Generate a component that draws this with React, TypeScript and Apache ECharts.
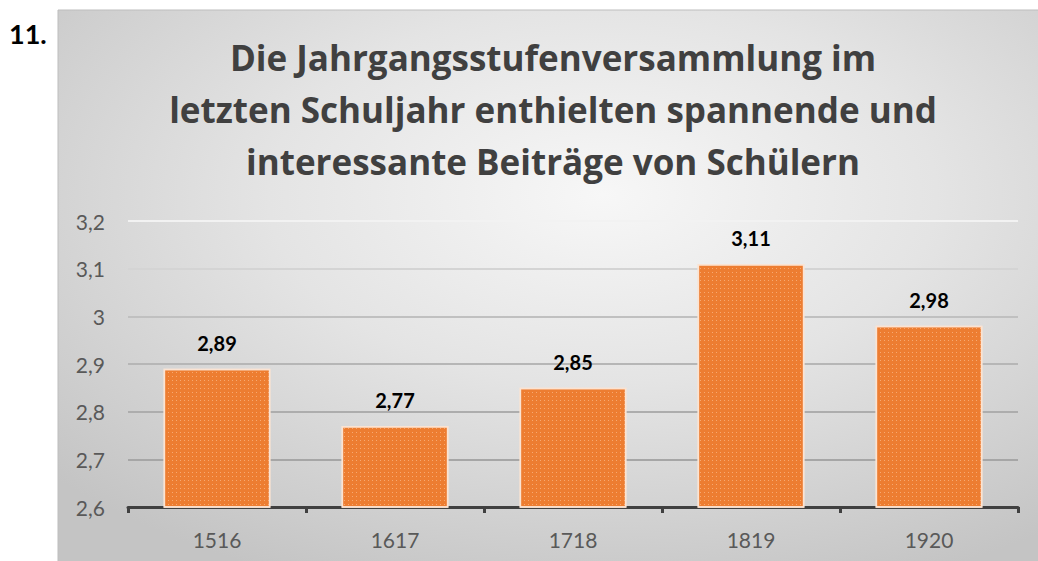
import React, { useEffect, useRef } from "react";
import * as echarts from "echarts";

const categories = ["1516", "1617", "1718", "1819", "1920"];
const values = [2.89, 2.77, 2.85, 3.11, 2.98];
const titleText =
  "Die Jahrgangsstufenversammlung im\nletzten Schuljahr enthielten spannende und\ninteressante Beiträge von Schülern";
const numberLabel = "11.";
const yMin = 2.6;
const yMax = 3.2;
const yStep = 0.1;

const fmt = (v: number, digits: number) => v.toFixed(digits).replace(".", ",");
const fmtTick = (v: number) => {
  const r = Math.round(v * 10) / 10;
  return Number.isInteger(r) ? String(r) : fmt(r, 1);
};

export default function App() {
  const ref = useRef<HTMLDivElement>(null);
  useEffect(() => {
    if (!ref.current) return;
    const chart = echarts.init(ref.current, null, { renderer: "svg" });
    chart.setOption({
      animation: false,
      backgroundColor: "#ffffff",
      graphic: [
        {
          type: "rect",
          z: -100,
          silent: true,
          shape: { x: 58, y: 10, width: 990, height: 560 },
          style: {
            fill: {
              type: "radial",
              x: 0.55,
              y: 0.33,
              r: 0.75,
              colorStops: [
                { offset: 0, color: "#f7f7f7" },
                { offset: 0.45, color: "#e4e4e4" },
                { offset: 1, color: "#c4c4c4" },
              ],
            },
            stroke: "#bdbdbd",
            lineWidth: 1,
          },
        },
        {
          type: "text",
          left: 9,
          top: 20,
          style: {
            text: numberLabel,
            fontSize: 27,
            fontWeight: "bold",
            fontFamily: "Lato",
            fill: "#000000",
          },
        },
      ],
      title: {
        text: titleText,
        left: 553,
        top: 31,
        padding: 0,
        textAlign: "center",
        textStyle: {
          fontFamily: "Open Sans",
          fontSize: 35,
          fontWeight: "bold",
          color: "#404040",
          lineHeight: 52,
        },
      },
      grid: { left: 128, right: 20, top: 221, bottom: 54, containLabel: false },
      xAxis: {
        type: "category",
        data: categories,
        axisLine: { show: true, lineStyle: { color: "#404040", width: 3 } },
        axisTick: { show: true, length: 6, lineStyle: { color: "#404040", width: 3 } },
        axisLabel: {
          margin: 22,
          fontSize: 21,
          color: "#595959",
          fontFamily: "Lato",
        },
      },
      yAxis: {
        type: "value",
        min: yMin,
        max: yMax,
        interval: yStep,
        axisLine: { show: false },
        axisTick: { show: false },
        axisLabel: {
          margin: 23,
          fontSize: 21,
          color: "#595959",
          fontFamily: "Lato",
          formatter: (v: number) => fmtTick(v),
        },
        splitLine: {
          show: true,
          lineStyle: {
            width: 2,
            color: ["#a0a0a0", "#a6a6a6", "#adadad", "#b6b6b6", "#c0c0c0", "#d4d4d4", "#f2f2f2"],
          },
        },
      },
      series: [
        {
          type: "bar",
          data: values,
          barCategoryGap: "40%",
          itemStyle: {
            color: "#ED7D31",
            borderColor: "#fbe3d2",
            borderWidth: 1.5,
            decal: {
              symbol: "rect",
              symbolSize: 1,
              color: "rgba(255, 205, 165, 0.55)",
              dashArrayX: [1, 3],
              dashArrayY: [1, 3],
              rotation: 0,
            },
          },
          label: {
            show: true,
            position: "top",
            distance: 16,
            fontFamily: "Lato",
            fontSize: 20,
            fontWeight: "bold",
            color: "#000000",
            formatter: (p: any) => fmt(p.value, 2),
          },
        },
      ],
    });
    return () => chart.dispose();
  }, []);
  return (
    <div
      ref={ref}
      style={{ position: "fixed", left: 0, top: 0, width: 1038, height: 561 }}
    />
  );
}
